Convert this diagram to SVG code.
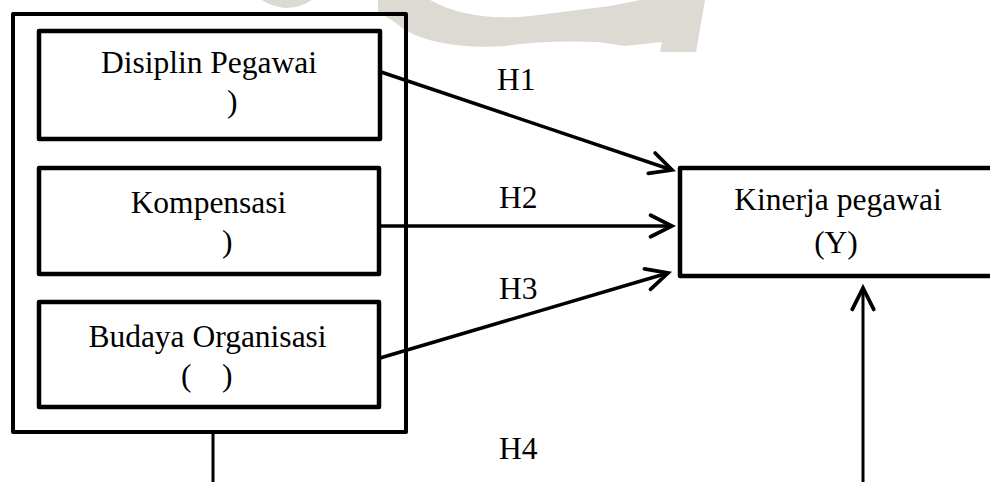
<svg xmlns="http://www.w3.org/2000/svg" width="990" height="482" viewBox="0 0 990 482">
<style>
  .box { fill: none; stroke: #000; stroke-width: 4.5; stroke-linejoin: round; }
  .outer { fill: none; stroke: #000; stroke-width: 4; stroke-linejoin: round; }
  .t { font-family: "Liberation Serif", "Times New Roman", serif; font-size: 31.5px; fill: #000; }
  .c { text-anchor: middle; }
  .conn { fill: none; stroke: #000; stroke-width: 3.5; }
  .line { fill: none; stroke: #000; stroke-width: 3; }
  .wm { fill: #dcdad3; stroke: none; }
</style>
<defs>
  <marker id="arrow" markerUnits="userSpaceOnUse" markerWidth="30" markerHeight="30" viewBox="-24 -14 28 28" refX="0" refY="0" orient="auto">
    <path d="M -20 -10 L 0 0 L -20 10" fill="none" stroke="#000" stroke-width="3.5" stroke-linecap="round" stroke-linejoin="miter"/>
  </marker>
</defs>
<rect width="990" height="482" fill="#fff"/>

<g id="watermark">
  <path class="wm" d="M 378 0 L 430 0 Q 470 22 530 16 L 610 6 L 640 0 L 705 0 L 696 52 L 660 52 L 662 42 L 625 46 L 598 42 Q 545 40 505 46 Q 440 50 405 30 Q 390 18 378 12 Z"/>
  <path class="wm" d="M 262 0 L 312 0 Q 300 8 285 8 Q 270 6 262 0 Z"/>
</g>

<g id="group-x">
  <rect class="outer" x="13" y="14" width="393" height="418"/>
</g>

<g id="node-disiplin">
  <rect class="box" x="39" y="31" width="341" height="108"/>
  <text class="t c" x="209" y="73">Disiplin Pegawai</text>
  <text class="t" x="227" y="112">)</text>
</g>

<g id="node-kompensasi">
  <rect class="box" x="39" y="168" width="340" height="106"/>
  <text class="t c" x="208.5" y="213">Kompensasi</text>
  <text class="t" x="222" y="252">)</text>
</g>

<g id="node-budaya">
  <rect class="box" x="39" y="302" width="340" height="105"/>
  <text class="t c" x="207.5" y="347">Budaya Organisasi</text>
  <text class="t" y="386"><tspan x="181">(</tspan><tspan x="222">)</tspan></text>
</g>

<g id="node-kinerja">
  <rect class="box" x="680" y="168" width="330" height="108"/>
  <text class="t c" x="838" y="210">Kinerja pegawai</text>
  <text class="t c" x="836" y="253">(Y)</text>
</g>

<g id="connectors">
  <line class="conn" x1="381" y1="72" x2="672" y2="170" marker-end="url(#arrow)"/>
  <line class="conn" x1="379" y1="226" x2="672" y2="226" marker-end="url(#arrow)"/>
  <line class="conn" x1="380" y1="358" x2="668" y2="273" marker-end="url(#arrow)"/>
  <line class="line" x1="213" y1="432" x2="213" y2="482"/>
  <line class="line" x1="863" y1="482" x2="863" y2="288" marker-end="url(#arrow)"/>
</g>

<g id="labels">
  <text class="t" x="497" y="90">H1</text>
  <text class="t" x="499" y="208">H2</text>
  <text class="t" x="499" y="299">H3</text>
  <text class="t" x="499" y="459">H4</text>
</g>
</svg>
